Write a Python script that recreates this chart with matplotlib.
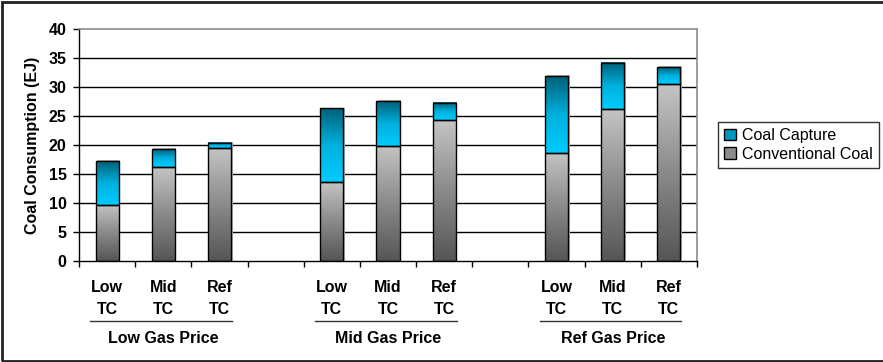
import numpy as np
import matplotlib.pyplot as plt
from matplotlib.colors import LinearSegmentedColormap
from matplotlib.patches import Rectangle, Patch
from matplotlib.lines import Line2D
import matplotlib.transforms as mtrans

plt.rcParams['font.family'] = ['Liberation Sans', 'DejaVu Sans']

groups = ['Low Gas Price', 'Mid Gas Price', 'Ref Gas Price']
cases = ['Low\nTC', 'Mid\nTC', 'Ref\nTC']
# conventional coal and total (conventional + capture), EJ
conventional = [9.7, 16.2, 19.4, 13.6, 19.9, 24.3, 18.7, 26.2, 30.5]
total = [17.2, 19.3, 20.4, 26.3, 27.6, 27.3, 31.9, 34.2, 33.4]
capture = [t - c for t, c in zip(total, conventional)]

gray_cmap = LinearSegmentedColormap.from_list('gray', ['#555555', '#8a8a8a', '#c4c4c4'])
cyan_cmap = LinearSegmentedColormap.from_list('cyan', ['#00ccff', '#00b0dd', '#006078'])

fig = plt.figure(figsize=(8.83, 3.62), dpi=100)
ax = fig.add_axes([79 / 883, 1 - 261 / 362, 618 / 883, 232 / 362])

# positions: 3 bars per group, one empty slot between groups
pos = []
for g in range(len(groups)):
    for i in range(len(cases)):
        pos.append(g * 4 + i)

width = 0.41
grad = np.linspace(0, 1, 256).reshape(-1, 1)


def grad_bar(x, y0, h, cmap):
    ax.imshow(grad, cmap=cmap, origin='lower', aspect='auto',
              extent=(x - width / 2, x + width / 2, y0, y0 + h), zorder=2)
    # light shadow on the right
    ax.add_patch(Rectangle((x - width / 2 + 0.03, y0), width, h + 0.15,
                           facecolor='#b0b0b0', edgecolor='none', zorder=1.5))
    ax.add_patch(Rectangle((x - width / 2, y0), width, h, facecolor='none',
                           edgecolor='black', linewidth=1.0, zorder=3))


for x, c, k in zip(pos, conventional, capture):
    grad_bar(x, 0, c, gray_cmap)
    grad_bar(x, c, k, cyan_cmap)

ax.set_xlim(-0.5, 10.5)
ax.set_ylim(0, 40)
for y in range(5, 40, 5):
    ax.axhline(y, color='black', linewidth=1.0, zorder=1)

fs = 11.5
ax.set_yticks(range(0, 41, 5))
ax.set_yticklabels([str(v) for v in range(0, 41, 5)], fontsize=fs, fontweight='bold')
ax.set_xticks(np.arange(-0.5, 11, 1))
ax.set_xticklabels([])
ax.tick_params(axis='both', direction='out', length=4, width=1, color='black')
ax.tick_params(axis='y', pad=5)

for s in ['top', 'right']:
    ax.spines[s].set_color('#8c8c8c')
    ax.spines[s].set_linewidth(1.2)
for s in ['left', 'bottom']:
    ax.spines[s].set_color('black')
    ax.spines[s].set_linewidth(1.0)

ax.set_ylabel('Coal Consumption (EJ)', fontsize=fs, fontweight='bold', labelpad=6)

# category labels and group labels below axis
trans = mtrans.blended_transform_factory(ax.transData, ax.transAxes)
for x, i in zip(pos, [0, 1, 2] * 3):
    low, tc = cases[i].split('\n')
    ax.text(x, -0.115, low, transform=trans, ha='center', va='center',
            fontsize=fs, fontweight='bold')
    ax.text(x, -0.207, tc, transform=trans, ha='center', va='center',
            fontsize=fs, fontweight='bold')
for g, name in enumerate(groups):
    x0 = g * 4
    ax.add_line(Line2D([x0 - 0.3, x0 + 2.22], [-0.259, -0.259], transform=trans,
                       color='#333333', linewidth=1.0, clip_on=False))
    ax.text(x0 + 1, -0.336, name, transform=trans, ha='center', va='center',
            fontsize=fs, fontweight='bold')

handles = [Patch(facecolor='#0096c0', edgecolor='black', label='Coal Capture'),
           Patch(facecolor='#8c8c8c', edgecolor='black', label='Conventional Coal')]
leg = fig.legend(handles=handles, loc='upper left', bbox_to_anchor=(718 / 883, 1 - 122 / 362),
                 fontsize=11.5, frameon=True, fancybox=False, handlelength=0.7,
                 handleheight=0.7, handletextpad=0.4, borderpad=0.4, labelspacing=0.2,
                 borderaxespad=0)
leg.get_frame().set_edgecolor('black')
leg.get_frame().set_linewidth(1.0)

# outer chart border (right edge is cut off in the original)
fig.add_artist(Rectangle((1.5 / 883, 1.5 / 362), 1.1, 1 - 3.5 / 362,
                         transform=fig.transFigure, facecolor='none',
                         edgecolor='#222222', linewidth=2.0))

fig.savefig('out.png', dpi=100)
